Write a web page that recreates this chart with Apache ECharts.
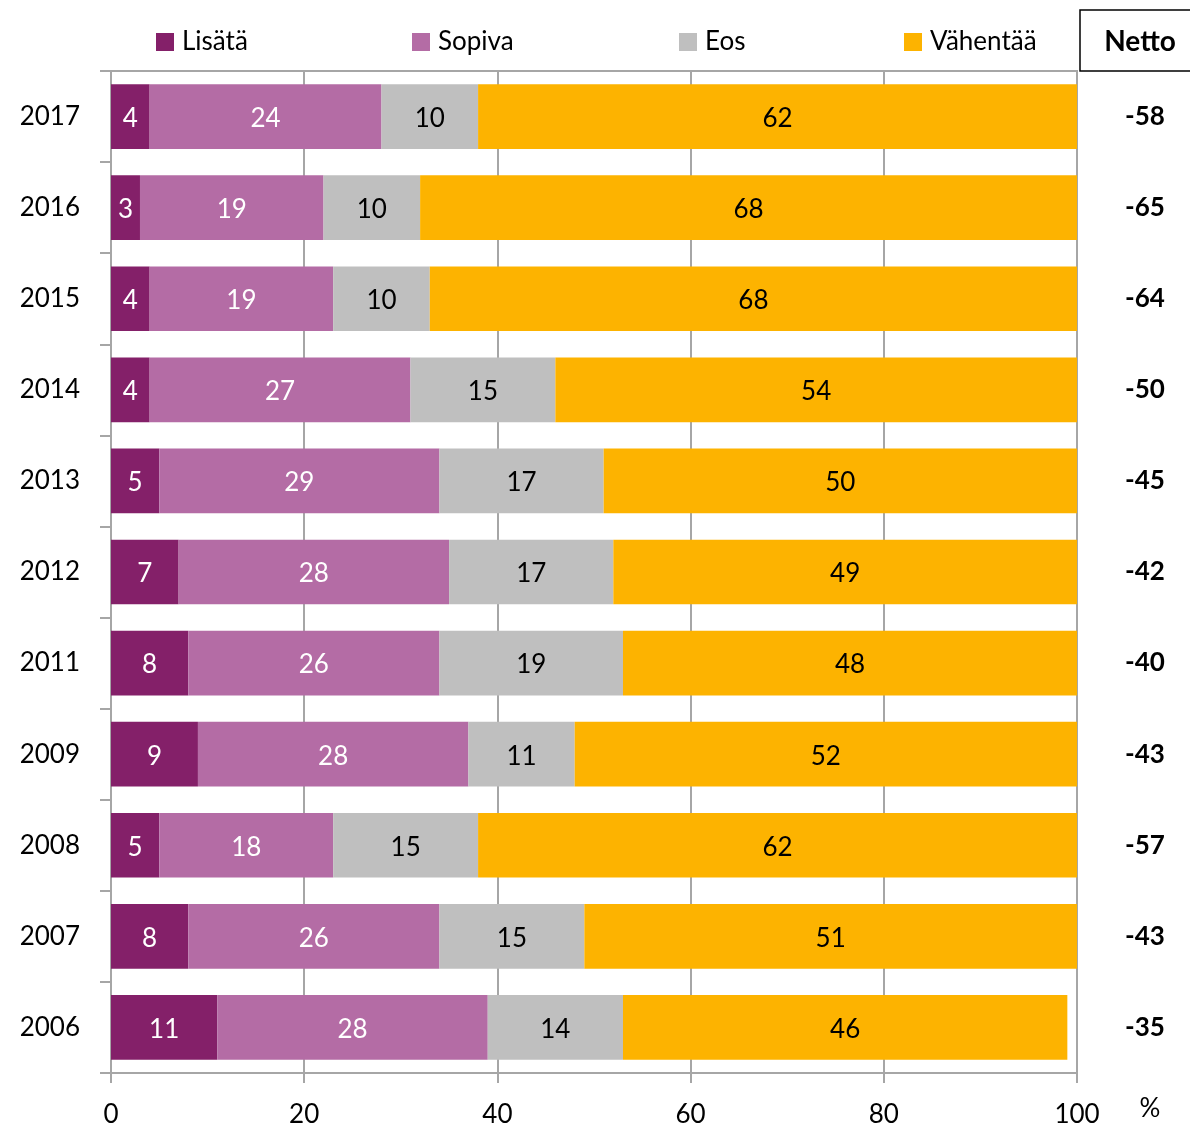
<!DOCTYPE html>
<html>
<head>
<meta charset="utf-8">
<script src="https://cdn.jsdelivr.net/npm/echarts@6/dist/echarts.min.js"></script>
<style>html,body{margin:0;padding:0;background:#fff}#c{width:1190px;height:1129px}</style>
</head>
<body>
<div id="c"></div>
<script>
const years = ['2017','2016','2015','2014','2013','2012','2011','2009','2008','2007','2006'];
const lisata = [4,3,4,4,5,7,8,9,5,8,11];
const sopiva = [24,19,19,27,29,28,26,28,18,26,28];
const eos = [10,10,10,15,17,17,19,11,15,15,14];
const vahentaa = [62,68,68,54,50,49,48,52,62,51,46];
const netto = ['-58','-65','-64','-50','-45','-42','-40','-43','-57','-43','-35'];
const xTicks = [0,20,40,60,80,100];
const seriesNames = ['Lisätä','Sopiva','Eos','Vähentää'];
const colors = ['#842069','#b46ca5','#bfbfbf','#fdb300'];
const labelColors = ['#fff','#fff','#000','#000'];
const values = [lisata, sopiva, eos, vahentaa];
const legendLeft = [156, 412, 679, 904];
const FONT = 'Lato';

const chart = echarts.init(document.getElementById('c'));
chart.setOption({
  animation: false,
  textStyle: {fontFamily: FONT},
  grid: {left: 111, right: 113, top: 71, bottom: 56, show: true, borderColor: '#a6a6a6', borderWidth: 2, containLabel: false},
  legend: seriesNames.map((n, i) => ({
    data: [n], left: legendLeft[i], top: 29, padding: 0, itemWidth: 18, itemHeight: 18, icon: 'rect',
    textStyle: {fontFamily: FONT, fontSize: 26, color: '#000', padding: [0, 0, 0, 3]}, selectedMode: false
  })),
  xAxis: {
    type: 'value', min: 0, max: 100, interval: 20,
    axisLine: {show: true, lineStyle: {color: '#a6a6a6', width: 2}},
    axisTick: {show: true, length: 10, lineStyle: {color: '#a6a6a6', width: 2}},
    splitLine: {show: true, lineStyle: {color: '#a6a6a6', width: 2}},
    axisLabel: {fontSize: 26, color: '#000', margin: 29, fontFamily: FONT,
      formatter: v => xTicks.includes(v) ? String(v) : ''}
  },
  yAxis: [{
    type: 'category', data: years, inverse: true,
    axisLine: {show: true, lineStyle: {color: '#a6a6a6', width: 2}},
    axisTick: {show: true, length: 11, lineStyle: {color: '#a6a6a6', width: 2}},
    axisLabel: {fontSize: 26, color: '#000', margin: 31, fontFamily: FONT, padding: [4, 0, 0, 0]}
  }, {
    type: 'category', data: netto, inverse: true, position: 'right',
    axisLine: {show: false}, axisTick: {show: false},
    axisLabel: {fontSize: 26, fontWeight: 'bold', color: '#000', margin: 48, fontFamily: FONT, padding: [10, 0, 0, 0]}
  }],
  graphic: [
    {type: 'rect', shape: {x: 1080, y: 10, width: 120, height: 61}, style: {fill: '#fff', stroke: '#000', lineWidth: 1.5}, z: 10},
    {type: 'text', x: 1140, y: 42, style: {text: 'Netto', font: 'bold 28px ' + FONT, fill: '#000', textAlign: 'center', textVerticalAlign: 'middle'}, z: 11},
    {type: 'text', x: 1150, y: 1109, style: {text: '%', font: '26px ' + FONT, fill: '#000', textAlign: 'center', textVerticalAlign: 'middle'}, z: 11}
  ],
  series: seriesNames.map((n, i) => ({
    name: n, type: 'bar', stack: 'total', data: values[i], clip: true,
    barCategoryGap: '29%',
    itemStyle: {color: colors[i]},
    label: {show: true, position: 'inside', fontSize: 26, color: labelColors[i], fontFamily: FONT, offset: [0, 2]}
  }))
});
</script>
</body>
</html>
